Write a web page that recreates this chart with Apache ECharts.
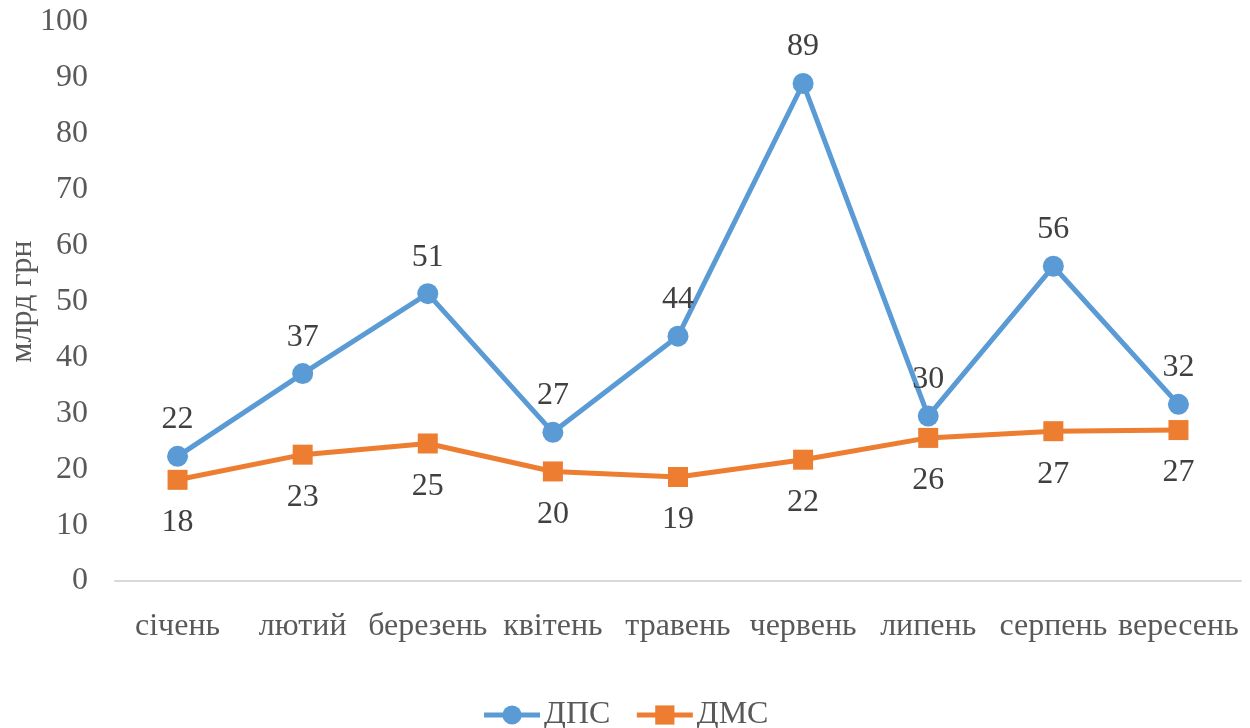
<!DOCTYPE html>
<html>
<head>
<meta charset="utf-8">
<script src="https://cdn.jsdelivr.net/npm/echarts@6/dist/echarts.min.js"></script>
<style>
  html, body { margin: 0; padding: 0; background: #fff; }
  #chart { width: 1250px; height: 728px; }
</style>
</head>
<body>
<div id="chart"></div>
<script>
// місяці
const months = ['січень', 'лютий', 'березень', 'квітень', 'травень', 'червень', 'липень', 'серпень', 'вересень'];
// млрд грн
const dpsValues = [22.3, 37.1, 51.4, 26.6, 43.8, 89.0, 29.5, 56.3, 31.6];
const dmsValues = [18.1, 22.6, 24.6, 19.6, 18.6, 21.7, 25.6, 26.8, 27.0];

const font = '"Liberation Serif", "Times New Roman", serif';
const fs = 32;

const chart = echarts.init(document.getElementById('chart'));
chart.setOption({
  textStyle: { fontFamily: font },
  animation: false,
  grid: { left: 115, right: 9, top: 22, bottom: 147, outerBoundsMode: 'none' },
  legend: {
    top: 694,
    left: 'center',
    itemWidth: 56,
    itemHeight: 24,
    itemGap: 24,
    lineStyle: { width: 5 },
    textStyle: { fontFamily: font, fontSize: fs, color: '#595959', padding: [0, 0, 0, -1] },
    data: ['ДПС', 'ДМС']
  },
  xAxis: {
    type: 'category',
    data: months,
    axisLine: { lineStyle: { color: '#d9d9d9', width: 2 } },
    axisTick: { show: false },
    axisLabel: { fontFamily: font, fontSize: fs, color: '#595959', margin: 30, interval: 0 }
  },
  yAxis: {
    type: 'value',
    min: 0,
    max: 100,
    interval: 10,
    name: 'млрд грн',
    nameLocation: 'middle',
    nameGap: 76,
    nameMoveOverlap: false,
    nameTextStyle: { fontFamily: font, fontSize: fs, color: '#595959' },
    splitLine: { show: false },
    axisLine: { show: false },
    axisTick: { show: false },
    axisLabel: { fontFamily: font, fontSize: fs, color: '#595959', margin: 27 }
  },
  series: [
    {
      name: 'ДПС',
      type: 'line',
      data: dpsValues,
      symbol: 'circle',
      symbolSize: 21,
      lineStyle: { color: '#5b9bd5', width: 5 },
      itemStyle: { color: '#5b9bd5' },
      label: {
        show: true,
        position: 'top',
        distance: 10,
        fontFamily: font,
        fontSize: fs,
        color: '#404040',
        formatter: p => Math.round(p.value)
      }
    },
    {
      name: 'ДМС',
      type: 'line',
      data: dmsValues,
      symbol: 'rect',
      symbolSize: 20,
      lineStyle: { color: '#ed7d31', width: 5 },
      itemStyle: { color: '#ed7d31' },
      label: {
        show: true,
        position: 'bottom',
        distance: 17,
        fontFamily: font,
        fontSize: fs,
        color: '#404040',
        formatter: p => Math.round(p.value)
      }
    }
  ]
});
</script>
</body>
</html>
